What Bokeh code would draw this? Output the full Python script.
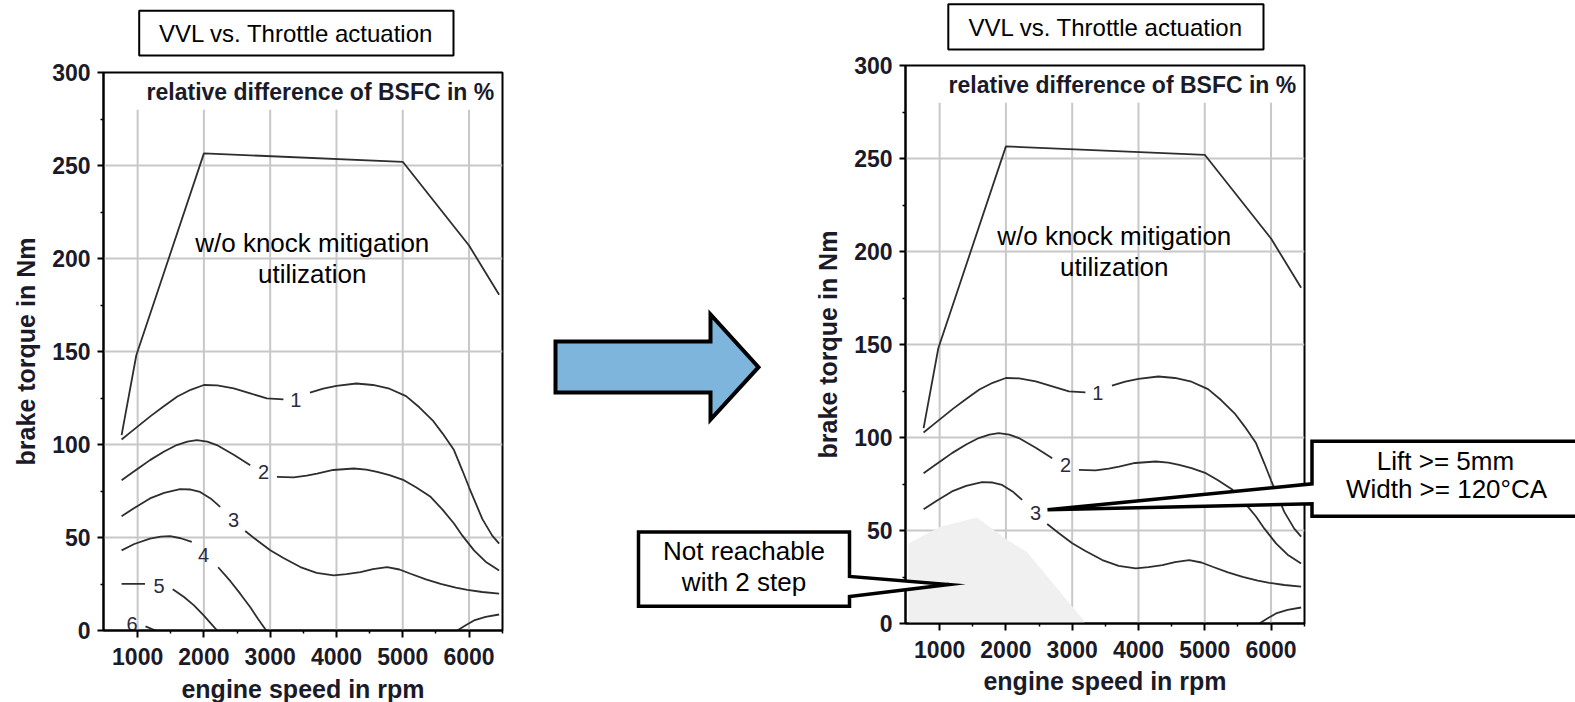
from bokeh.plotting import figure
from bokeh.layouts import row, column
from bokeh.models import Label, FixedTicker
from bokeh.core.properties import value
from bokeh.embed import file_html
from bokeh.resources import INLINE

FONT = "Liberation Sans"

# ---------------- data ----------------
speed_major = [1000, 2000, 3000, 4000, 5000, 6000]
speed_minor = [1500, 2500, 3500, 4500, 5500, 6500]
torque_major = [0, 50, 100, 150, 200, 250, 300]
torque_minor = [25, 75, 125, 175, 225, 275]

full_load_rpm = [758, 980, 2000, 5000, 6000, 6454]
full_load_nm = [105, 148, 256.5, 252, 207, 180.5]

c1a_rpm = [758, 900, 1050, 1200, 1400, 1600, 1800, 2000, 2200, 2450, 2700, 2950, 3200]
c1a_nm = [102.7, 106.8, 111.1, 115.4, 120.7, 125.8, 129.4, 132, 131.8, 130.2, 127.5, 124.8, 124.3]
c1b_rpm = [3600, 3800, 4000, 4300, 4550, 4800, 5050, 5250, 5450, 5600, 5773, 5900, 6000, 6100, 6200, 6350, 6454]
c1b_nm = [127.9, 130, 131.5, 132.8, 132, 130, 126, 120, 113, 106, 97, 86, 77, 68.5, 60, 51, 46.7]

c2a_rpm = [758, 900, 1050, 1186, 1400, 1590, 1750, 1892, 2050, 2195, 2450, 2699]
c2a_nm = [80.8, 84.4, 88.2, 91.6, 96.2, 99.7, 101.5, 102.4, 101.5, 99.7, 94.5, 88.9]
c2b_rpm = [3102, 3354, 3550, 3707, 3950, 4261, 4450, 4614, 4800, 5017, 5200, 5420, 5600, 5773, 5900, 6075, 6250, 6454]
c2b_nm = [82.6, 82.3, 83.3, 84.4, 86.3, 87.1, 86.5, 85.3, 83.5, 80.8, 77, 71.9, 65, 57.5, 51, 43.1, 37, 32.3]

c3a_rpm = [758, 950, 1186, 1400, 1640, 1800, 1942, 2100, 2245]
c3a_nm = [61.4, 65.9, 71, 74, 76, 75.8, 74.5, 71, 66.5]
c3b_rpm = [2623, 2800, 3001, 3200, 3455, 3700, 3959, 4150, 4362, 4550, 4765, 4950, 5118, 5350, 5572, 5800, 5975, 6200, 6454]
c3b_nm = [53.5, 48.5, 43.1, 39, 34.1, 31, 29.6, 30.3, 31.4, 33, 34.1, 32.8, 30.5, 27.5, 25.1, 23, 21.9, 20.7, 19.8]

c4a_rpm = [758, 950, 1186, 1350, 1489, 1650, 1817]
c4a_nm = [43.1, 46.5, 49.4, 50.5, 50.7, 49.6, 47.6]
c4b_rpm = [2215, 2400, 2547, 2700, 2820, 2940]
c4b_nm = [34, 26.5, 19.8, 12.5, 6, 0]

c5a_rpm = [758, 1111]
c5a_nm = [25.1, 25.1]
c5b_rpm = [1530, 1700, 1850, 2000, 2100, 2200]
c5b_nm = [22.2, 18, 13.5, 8, 4, 0]

c6b_rpm = [1119, 1270]
c6b_nm = [2.2, 0]

c0_rpm = [5823, 5950, 6075, 6250, 6454]
c0_nm = [0, 2.8, 5.4, 7.3, 8.6]

contour_text = ["1", "2", "3", "4", "5", "6"]
contour_text_rpm = [3385, 2900, 2447, 1993, 1325, 915]
contour_text_nm = [124, 85, 59.3, 40.4, 24, 3.6]

unreachable_rpm = [530, 530, 1011, 1564, 2017, 2318, 3172, 3190]
unreachable_nm = [0, 43, 52, 57, 45, 38.5, 1.8, 0]

contour_lines = [
    (c1a_rpm, c1a_nm), (c1b_rpm, c1b_nm),
    (c2a_rpm, c2a_nm), (c2b_rpm, c2b_nm),
    (c3a_rpm, c3a_nm), (c3b_rpm, c3b_nm),
    (c4a_rpm, c4a_nm), (c4b_rpm, c4b_nm),
    (c5a_rpm, c5a_nm), (c5b_rpm, c5b_nm),
    (c6b_rpm, c6b_nm), (c0_rpm, c0_nm),
]

panel_title = "VVL vs. Throttle actuation"
panel_caption = "relative difference of BSFC in %"
region_note = ["w/o knock mitigation", "utilization"]
x_label = "engine speed in rpm"
y_label = "brake torque in Nm"
callout_left = ["Not reachable", "with 2 step"]
callout_right = ["Lift >= 5mm", "Width >= 120°CA"]

# ---------------- layout geometry ----------------
X_RANGE = (485, 6505)
Y_RANGE = (0, 300)
W, H = 1575, 702
LEFT_W = 530
RIGHT_W = W - LEFT_W
LEFT_FRAME = (103, 502, 72, 630)     # canvas px: left, right, top, bottom
RIGHT_FRAME = (905, 1304, 65, 623)
TEXT_DARK = "#1a1a28"


def no_frame_align(p):
    if hasattr(p, "frame_align"):
        p.frame_align = False


def make_panel(width, frame, canvas_x0, with_region):
    l, r, t, b = frame
    p = figure(width=width, height=H, x_range=X_RANGE, y_range=Y_RANGE,
               output_backend="svg", toolbar_location=None,
               min_border_left=l - canvas_x0, min_border_right=canvas_x0 + width - r,
               min_border_top=t, min_border_bottom=H - b)
    no_frame_align(p)
    p.background_fill_color = "white"
    p.border_fill_color = "white"
    p.outline_line_color = "black"
    p.outline_line_width = 2
    p.outline_line_alpha = 1

    p.xaxis.ticker = FixedTicker(ticks=speed_major, minor_ticks=speed_minor)
    p.yaxis.ticker = FixedTicker(ticks=torque_major, minor_ticks=torque_minor)
    p.yaxis.axis_label = y_label
    for ax in (p.xaxis[0], p.yaxis[0]):
        ax.axis_line_width = 2
        ax.axis_line_color = "black"
        ax.major_tick_line_width = 2
        ax.minor_tick_line_width = 1.5
        ax.major_tick_in = 0
        ax.minor_tick_out = 3
        ax.minor_tick_in = 0
        ax.major_label_text_font = FONT
        ax.major_label_text_font_style = "bold"
        ax.major_label_text_font_size = "23px"
        ax.major_label_text_color = TEXT_DARK
        ax.axis_label_text_font = FONT
        ax.axis_label_text_font_style = "bold"
        ax.axis_label_text_font_size = "25px"
        ax.axis_label_text_color = TEXT_DARK
    p.xaxis.major_tick_out = 7
    p.yaxis.major_tick_out = 6
    p.xaxis.major_label_standoff = 10
    p.yaxis.major_label_standoff = 7
    p.yaxis.axis_label_standoff = 9

    p.xgrid.visible = False
    p.ygrid.ticker = FixedTicker(ticks=torque_major)
    p.ygrid.grid_line_color = "#c8c8c8"
    p.ygrid.grid_line_width = 2
    # vertical grid lines stop below the panel caption
    p.segment(x0=speed_major, y0=[0] * len(speed_major),
              x1=speed_major, y1=[280] * len(speed_major),
              line_color="#c8c8c8", line_width=2)

    p.line(full_load_rpm, full_load_nm, line_color="#2e2e2e", line_width=1.8)
    for xs, ys in contour_lines:
        p.line(xs, ys, line_color="#2e2e2e", line_width=1.8)
    p.text(x=contour_text_rpm, y=contour_text_nm, text=contour_text,
           text_font=value(FONT), text_font_size="20px", text_color="#2a2a40",
           text_align="center", text_baseline="middle")

    if with_region:
        p.patch(unreachable_rpm, unreachable_nm, fill_color="#f0f0f0", line_color=None)

    p.add_layout(Label(x=6380, y=289.5, text=panel_caption,
                       text_font=FONT, text_font_size="23px", text_font_style="bold",
                       text_color=TEXT_DARK, text_align="right", text_baseline="middle"))
    p.add_layout(Label(x=3635, y=208.4, text=region_note[0], text_font=FONT,
                       text_font_size="26px", text_color="black", text_align="center",
                       text_baseline="middle"))
    p.add_layout(Label(x=3635, y=191.4, text=region_note[1], text_font=FONT,
                       text_font_size="26px", text_color="black", text_align="center",
                       text_baseline="middle"))
    return p


left = make_panel(LEFT_W, LEFT_FRAME, 0, False)
right = make_panel(RIGHT_W, RIGHT_FRAME, LEFT_W, True)

# ---------------- transparent overlay in canvas pixels (decorations) ----------------
ov = figure(width=W, height=H, x_range=(0, W), y_range=(H, 0),
            output_backend="svg", toolbar_location=None,
            x_axis_location=None, y_axis_location=None, min_border=0)
no_frame_align(ov)
ov.outline_line_color = None
ov.background_fill_alpha = 0
ov.border_fill_alpha = 0
ov.grid.visible = False
ov.margin = (-H, 0, 0, 0)

# x-axis titles of the two panels (placed under the tick labels)
ov.text(x=[302.5, 1104.5], y=[688.5, 680], text=[x_label, x_label],
        text_font=value(FONT), text_font_size="25px", text_font_style="bold",
        text_color=TEXT_DARK, text_align="center", text_baseline="middle")

TITLE_BOX_X = [[138.7, 453, 453, 138.7], [947.8, 1263, 1263, 947.8]]
TITLE_BOX_Y = [[10.3, 10.3, 55, 55], [3.7, 3.7, 49, 49]]
ov.patches(TITLE_BOX_X, TITLE_BOX_Y, fill_color="white", line_color="black", line_width=2)
ov.text(x=[295.8, 1105.4], y=[33, 26.5], text=[panel_title, panel_title],
        text_font=value(FONT), text_font_size="24px", text_color="black",
        text_align="center", text_baseline="middle")

ARROW_X = [555, 710, 710, 758, 710, 710, 555]
ARROW_Y = [341, 341, 314, 366.7, 419, 392, 392]
ov.patch(ARROW_X, ARROW_Y, fill_color="#7eb5dd", line_color="black", line_width=4,
         line_join="miter")

CALL1_X = [638, 849, 849, 948, 849, 849, 638]
CALL1_Y = [531.5, 531.5, 576, 584, 596, 605.8, 605.8]
CALL2_X = [1311.5, 1590, 1590, 1311.5, 1311.5, 1047, 1311.5]
CALL2_Y = [440.8, 440.8, 515.8, 515.8, 503.3, 509.3, 483.3]
ov.patches([CALL1_X, CALL2_X], [CALL1_Y, CALL2_Y], fill_color="white",
           line_color="black", line_width=3.5, line_join="miter")
ov.text(x=[743.5, 743.5, 1445, 1446], y=[550, 581, 460, 488],
        text=callout_left + callout_right,
        text_font=value(FONT), text_font_size="26px", text_color="black",
        text_align="center", text_baseline="middle")

layout = column(row(left, right, spacing=0), ov, spacing=0)
open("out.html", "w").write(file_html(layout, INLINE))
